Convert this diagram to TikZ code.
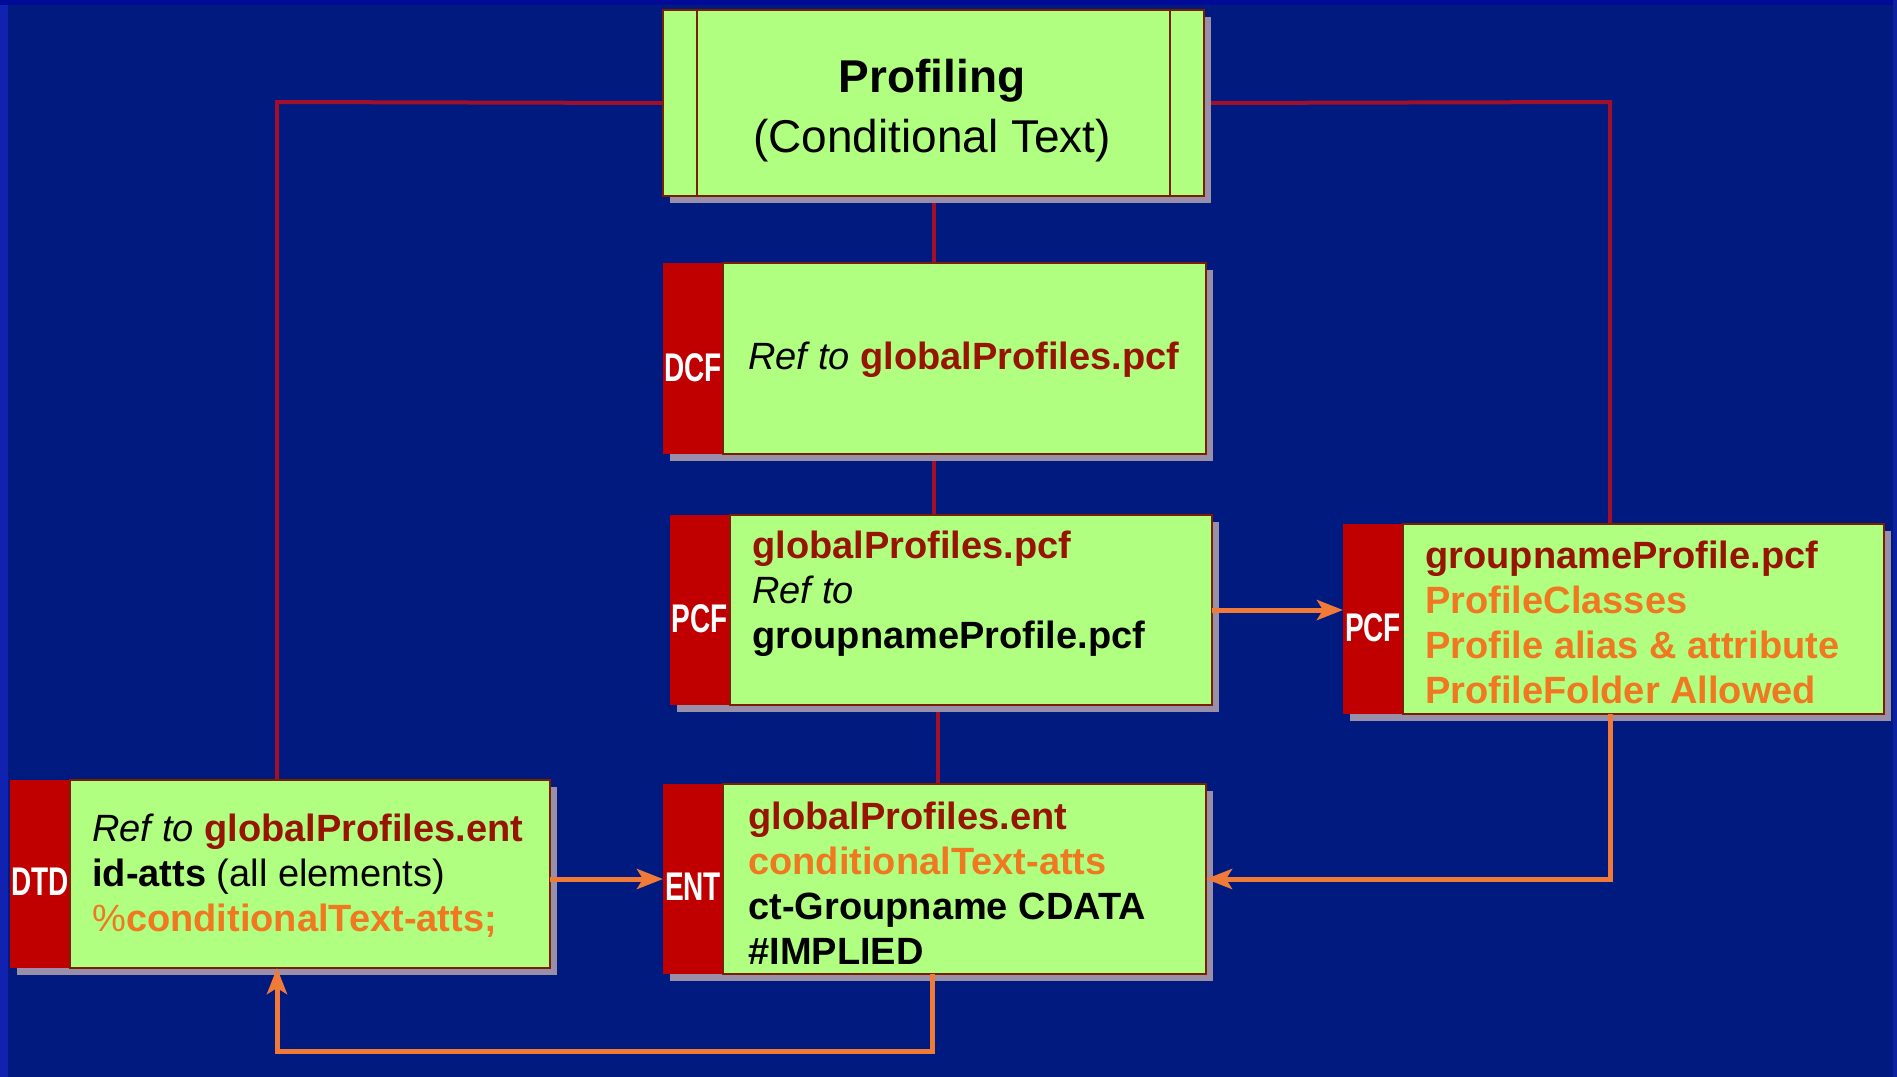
\documentclass[tikz,border=0pt]{standalone}
\usepackage{fontspec}
\setmainfont{Liberation Sans}
\usepackage{graphicx}
\usetikzlibrary{arrows.meta,shadows}
\pgfdeclarelayer{bg}
\pgfsetlayers{bg,main}
\definecolor{bgc}{HTML}{001A80}
\definecolor{edgec}{HTML}{1222B0}
\definecolor{topc}{HTML}{000C98}
\definecolor{boxg}{HTML}{B0FF80}
\definecolor{tabr}{HTML}{C00000}
\definecolor{dred}{HTML}{961400}
\definecolor{orng}{HTML}{F07820}
\definecolor{linered}{HTML}{A0102A}
\definecolor{lineor}{HTML}{F07A38}
\definecolor{shad}{HTML}{9A8FA8}
\definecolor{boxline}{HTML}{7A2000}
\tikzset{
  shd/.style={drop shadow={shadow xshift=3.5pt, shadow yshift=-3.5pt, fill=shad, opacity=1}},
  body/.style={shd, fill=boxg, draw=boxline, line width=0.8pt, inner sep=0pt, outer sep=0pt, minimum height=95pt},
  tabbox/.style={shd, fill=tabr, inner sep=0pt, outer sep=0pt, minimum width=30pt, minimum height=95pt},
  tablbl/.style={text=white, font=\fontsize{20}{22}\selectfont\bfseries, inner sep=0pt},
  txt/.style={anchor=west, align=left, inner sep=0pt, font=\fontsize{19}{22.5}\selectfont},
  redline/.style={draw=linered, line width=2pt},
  orline/.style={draw=lineor, line width=2.5pt, -{Stealth[length=13pt,width=10pt,inset=3pt]}},
}
\begin{document}
\begin{tikzpicture}[x=0.5pt,y=-0.5pt]
\useasboundingbox (0,0) rectangle (1897,1077);
\begin{pgfonlayer}{bg}
\fill[bgc] (0,0) rectangle (1897,1077);
\fill[edgec] (0,0) rectangle (8,1077);
\fill[topc] (0,0) rectangle (1897,5);
\fill[edgec!70!bgc] (1893,0) rectangle (1897,1077);
\end{pgfonlayer}

% Profiling
\node[body, minimum width=270.5pt, minimum height=93pt] (prof) at (933.5,103) {};
\draw[boxline, line width=0.8pt] ([xshift=17pt]prof.north west) -- ([xshift=17pt]prof.south west);
\draw[boxline, line width=0.8pt] ([xshift=-17pt]prof.north east) -- ([xshift=-17pt]prof.south east);
\node[align=center, inner sep=0pt, font=\fontsize{23}{30}\selectfont] (profX) at (932,111) {\textbf{Profiling}\\(Conditional Text)};

% DCF
\node[tabbox, minimum height=95.5pt] (dcfT) at (693,358.5) {};
\node[body, minimum width=241.5pt, minimum height=95.5pt] (dcfB) at (964.5,358.5) {};
\node[tablbl] (dcfL) at ([yshift=-4.5pt]dcfT.center) {\scalebox{0.7}[1]{DCF}};
\node[txt] (dcfX) at (748,360) {\textit{Ref to} \textcolor{dred}{\bfseries globalProfiles.pcf}};

% PCF middle
\node[tabbox] (pcfmT) at (699.5,610) {};
\node[body, minimum width=241pt] (pcfmB) at (971,610) {};
\node[tablbl] (pcfmL) at ([yshift=-4.5pt]pcfmT.center) {\scalebox{0.7}[1]{PCF}};
\node[txt] (pcfmX) at (752,594) {\textcolor{dred}{\bfseries globalProfiles.pcf}\\\textit{Ref to}\\\textbf{groupnameProfile.pcf}};

% PCF right
\node[tabbox] (pcfrT) at (1373,619) {};
\node[body, minimum width=240.5pt] (pcfrB) at (1643.5,619) {};
\node[tablbl] (pcfrL) at ([yshift=-4.5pt]pcfrT.center) {\scalebox{0.7}[1]{PCF}};
\node[txt] (pcfrX) at (1425,622) {\textcolor{dred}{\bfseries groupnameProfile.pcf}\\\textcolor{orng}{\bfseries ProfileClasses}\\\textcolor{orng}{\bfseries Profile alias \& attribute}\\\textcolor{orng}{\bfseries ProfileFolder Allowed}};

% ENT
\node[tabbox] (entT) at (693,879) {};
\node[body, minimum width=241.5pt] (entB) at (964.5,879) {};
\node[tablbl] (entL) at ([yshift=-4pt]entT.center) {\scalebox{0.7}[1]{ENT}};
\node[txt] (entX) at (748,883) {\textcolor{dred}{\bfseries globalProfiles.ent}\\\textcolor{orng}{\bfseries conditionalText-atts}\\\textbf{ct-Groupname CDATA}\\\textbf{\#IMPLIED}};

% DTD
\node[tabbox, minimum height=94pt] (dtdT) at (40,874) {};
\node[body, minimum width=240pt, minimum height=94pt] (dtdB) at (310,874) {};
\node[tablbl] (dtdL) at ([yshift=-4pt]dtdT.center) {\scalebox{0.7}[1]{DTD}};
\node[txt] (dtdX) at (92,876) {\textit{Ref to} \textcolor{dred}{\bfseries globalProfiles.ent}\\\textbf{id-atts} (all elements)\\\textcolor{orng}{\%\bfseries conditionalText-atts;}};

% connectors
\coordinate (lx) at (277,102);
\coordinate (rx) at (1610,102);
\coordinate (bx) at (932,1051);
\begin{pgfonlayer}{bg}
\draw[redline] (prof.west) -- (lx) -- (lx |- dtdT.north);
\draw[redline] (prof.east) -- (rx) -- (rx |- pcfrB.north);
\draw[redline] (prof.south) -- (prof.south |- dcfB.north);
\draw[redline] (dcfB.south -| prof.south) -- (pcfmB.north -| prof.south);
\draw[redline] ([xshift=2pt]pcfmB.south -| prof.south) -- ([xshift=2pt]entB.north -| prof.south);
\end{pgfonlayer}
\draw[orline] (pcfmB.east) -- (pcfmB.east -| pcfrT.west);
\draw[orline] (dtdB.east |- entT.west) -- (entT.west);
\draw[orline] (rx |- pcfrB.south) |- (entB.east);
\draw[orline] (bx |- entB.south) -- (bx) -- (bx -| lx) -- (lx |- dtdB.south);
\end{tikzpicture}
\end{document}
